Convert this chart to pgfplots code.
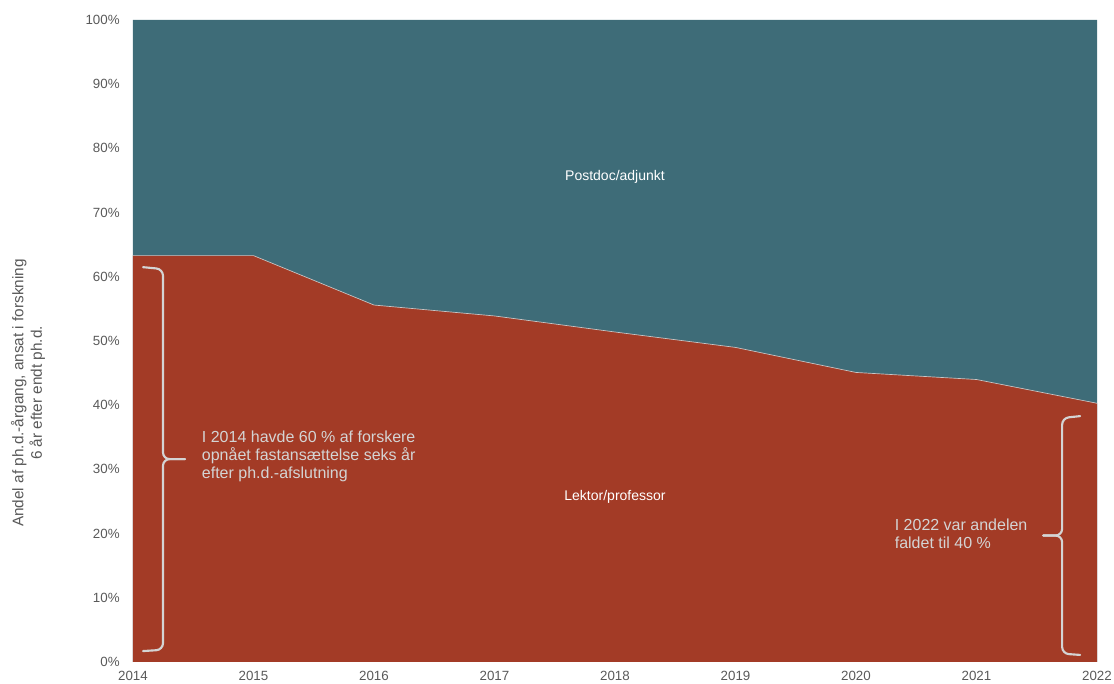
\documentclass[border=0pt]{standalone}
\usepackage{fontspec}
\setmainfont{Liberation Sans}
\usepackage{pgfplots}
\pgfplotsset{compat=1.18}
\definecolor{lek}{HTML}{A33B26}
\definecolor{post}{HTML}{3E6C78}
\definecolor{tickc}{HTML}{595959}
\definecolor{anno}{HTML}{D4D4D4}
\definecolor{bline}{HTML}{D9D9D9}
\begin{document}
\begin{tikzpicture}
\begin{axis}[
  scale only axis, width=723pt, height=481.5pt,
  at={(0,0)}, anchor=south west,
  xmin=2014, xmax=2022, ymin=0, ymax=100,
  xtick={2014,2015,...,2022}, ytick={0,10,...,100},
  axis x line*=bottom, axis y line*=left,
  x axis line style={draw=bline, line width=0.75pt, -},
  y axis line style={draw=none},
  major tick length=0pt,
  xticklabel={\pgfmathprintnumber[assume math mode=true,1000 sep={}]{\tick}},
  yticklabel={\pgfmathprintnumber[assume math mode=true]{\tick}\%},
  tick label style={font=\fontsize{10}{12}\selectfont, text=tickc},
  yticklabel style={xshift=-6.5pt},
  xticklabel style={yshift=-3.4pt},
  clip=false,
]
\addplot[fill=post, draw=none] coordinates {
 (2014,100) (2015,100) (2016,100) (2017,100) (2018,100) (2019,100) (2020,100) (2021,100) (2022,100)
} \closedcycle;
\addplot[fill=lek, draw=none] coordinates {
 (2014,63.3) (2015,63.3) (2016,55.6) (2017,53.9) (2018,51.4) (2019,49.0) (2020,45.1) (2021,44.0) (2022,40.3)
} \closedcycle;
\addplot[draw=bline!80!gray, line width=0.5pt] coordinates {
 (2014,63.3) (2015,63.3) (2016,55.6) (2017,53.9) (2018,51.4) (2019,49.0) (2020,45.1) (2021,44.0) (2022,40.3)
};
% left brace
\draw[anno, line width=1.6pt, rounded corners=5pt, line cap=round]
  (axis cs:2014.083,61.5) -- ([xshift=15pt]axis cs:2014.083,61.2)
  -- ([xshift=15pt]axis cs:2014.083,31.6) -- ([xshift=31.5pt]axis cs:2014.083,31.6);
\draw[anno, line width=1.6pt, rounded corners=5pt, line cap=round]
  ([xshift=31.5pt]axis cs:2014.083,31.6) -- ([xshift=15pt]axis cs:2014.083,31.6)
  -- ([xshift=15pt]axis cs:2014.083,1.9) -- (axis cs:2014.083,1.7);
% right brace
\draw[anno, line width=1.6pt, rounded corners=5pt, line cap=round]
  (axis cs:2021.86,38.3) -- ([xshift=-13.5pt]axis cs:2021.86,38.0)
  -- ([xshift=-13.5pt]axis cs:2021.86,19.7) -- ([xshift=-27.75pt]axis cs:2021.86,19.7);
\draw[anno, line width=1.6pt, rounded corners=5pt, line cap=round]
  ([xshift=-27.75pt]axis cs:2021.86,19.7) -- ([xshift=-13.5pt]axis cs:2021.86,19.7)
  -- ([xshift=-13.5pt]axis cs:2021.86,1.3) -- (axis cs:2021.86,1.1);
% annotations
\node[anchor=west, align=left, text=anno, font=\fontsize{12}{13.5}\selectfont, inner sep=0pt]
  at (axis cs:2014.57,32.1) {I 2014 havde 60 \% af forskere\\opnået fastansættelse seks år\\efter ph.d.-afslutning};
\node[anchor=west, align=left, text=anno, font=\fontsize{12}{13.5}\selectfont, inner sep=0pt]
  at (axis cs:2020.32,19.9) {I 2022 var andelen\\faldet til 40 \%};
\node[text=white, font=\fontsize{10.5}{12}\selectfont] at (axis cs:2018,75.5) {Postdoc/adjunkt};
\node[text=white, font=\fontsize{10.5}{12}\selectfont] at (axis cs:2018,25.7) {Lektor/professor};
% y label
\node[rotate=90, align=center, text=tickc, font=\fontsize{11.5}{14}\selectfont, inner sep=0pt]
  at ([xshift=-78.75pt]rel axis cs:0,0.419) {Andel af ph.d.-årgang, ansat i forskning\\6 år efter endt ph.d.};
\end{axis}
\pgfresetboundingbox
\path[use as bounding box] (-99.75pt,-16.5pt) rectangle (735.75pt,496.5pt);
\end{tikzpicture}
\end{document}
